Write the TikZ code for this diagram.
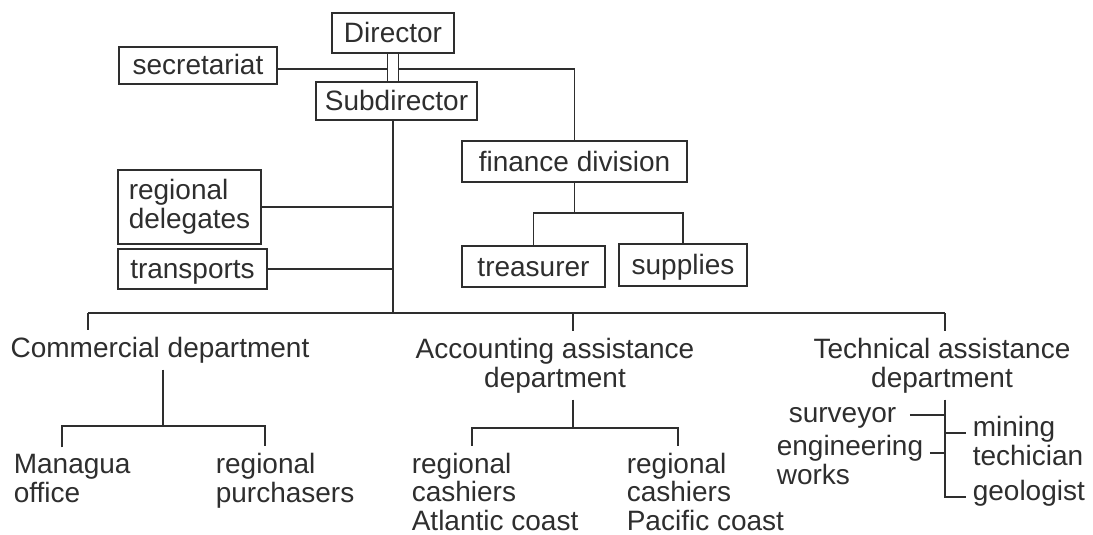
\documentclass[tikz,border=0pt]{standalone}
\usepackage{fontspec}
\setmainfont{Liberation Sans}
\definecolor{ink}{gray}{0.18}
\begin{document}
\begin{tikzpicture}[x=1pt,y=-1pt,line width=1.6pt,draw=ink,text=ink,
  every node/.style={font=\fontsize{28}{28.5}\selectfont},
  box/.style={draw=ink,inner sep=0pt,text height=21pt,text depth=2pt},
  mbox/.style={draw=ink,inner sep=0pt,align=left},
  lbl/.style={inner sep=6pt,align=left},
  clbl/.style={inner sep=6pt,align=center}]
\useasboundingbox (0,0) rectangle (1093,535);
% boxes
\node[box,minimum width=122pt,minimum height=40pt] (dir) at (393,33) {Director};
\node[box,minimum width=158pt,minimum height=37pt] (sec) at (198,65.5) {secretariat};
\node[box,minimum width=161pt,minimum height=38pt] (sub) at (396.5,101) {Subdirector};
\node[box,minimum width=225pt,minimum height=41pt] (fin) at (574.5,161.5) {finance division};
\node[box,minimum width=143pt,minimum height=41pt] (tre) at (533.5,266.5) {treasurer};
\node[box,minimum width=128pt,minimum height=42pt] (sup) at (683,265) {supplies};
\node[mbox,minimum width=143pt,minimum height=74pt] (del) at (189.5,207) {regional\\delegates};
\node[box,minimum width=149pt,minimum height=40pt] (tra) at (192.5,269) {transports};
% departments (base = baseline of last line)
\node[lbl,anchor=base] (com) at (160,357) {Commercial department};
\node[clbl,anchor=base] (acc) at (555,387) {Accounting assistance\\department};
\node[clbl,anchor=base] (tec) at (942,387) {Technical assistance\\department};
% leaves
\node[lbl,anchor=base west] (man) at (7,502) {Managua\\office};
\node[lbl,anchor=base west] (pur) at (209,502) {regional\\purchasers};
\node[lbl,anchor=base west] (atl) at (405,530) {regional\\cashiers\\Atlantic coast};
\node[lbl,anchor=base west] (pac) at (620,530) {regional\\cashiers\\Pacific coast};
\node[lbl,anchor=base west] (sur) at (782,422) {surveyor};
\node[lbl,anchor=base west] (eng) at (770,484) {engineering\\works};
\node[lbl,anchor=base west] (min) at (966,465) {mining\\techician};
\node[lbl,anchor=base west] (geo) at (966,500) {geologist};
% coordinates
\coordinate (dl) at ([xshift=-5.5pt]dir.south);
\coordinate (dr) at ([xshift=5.5pt]dir.south);
\coordinate (bar) at (393,313);
\coordinate (bl) at (88,313);
\coordinate (bm) at (573,313);
\coordinate (br) at (945,313);
\coordinate (ff) at (574.5,213);
\coordinate (cf) at (163,426);
\coordinate (cfl) at (62,426);
\coordinate (cfr) at (265,426);
\coordinate (af) at (573,428);
\coordinate (afl) at (472,428);
\coordinate (afr) at (678,428);
\coordinate (tsu) at (945,415);
\coordinate (tmi) at (945,433);
\coordinate (ten) at (945,453);
\coordinate (tge) at (945,497);
% top connectors
\draw (dl) -- (dl |- sub.north);
\draw (dr) -- (dr |- sub.north);
\draw ([yshift=-3.5pt]sec.east) -- ([yshift=-3.5pt]sec.east -| dl);
\draw ([yshift=-3.5pt]sec.east -| dr) -| (fin.north);
\draw (fin.south) -- (ff);
\draw (tre.north) |- (ff -| sup.north) -- (sup.north);
\draw (sub.south -| bar) -- (bar);
\draw (del.east) -- (del.east -| bar);
\draw (tra.east) -- (tra.east -| bar);
% main bar
\draw (bl) -- (br);
\draw (bl) -- (bl |- com.north);
\draw (bm) -- (bm |- acc.north);
\draw (br) -- (br |- tec.north);
% commercial
\draw (com.south -| cf) -- (cf);
\draw (cfl |- man.north) |- (cfr) -- (cfr |- pur.north);
% accounting
\draw (acc.south -| af) -- (af);
\draw (afl |- atl.north) |- (afr) -- (afr |- pac.north);
% technical
\draw (tec.south -| tge) -- (tge) -- (tge -| geo.west);
\draw ([xshift=7pt]sur.east |- tsu) -- (tsu);
\draw (eng.east |- ten) -- (ten);
\draw (tmi) -- (tmi -| min.west);
\end{tikzpicture}
\end{document}
